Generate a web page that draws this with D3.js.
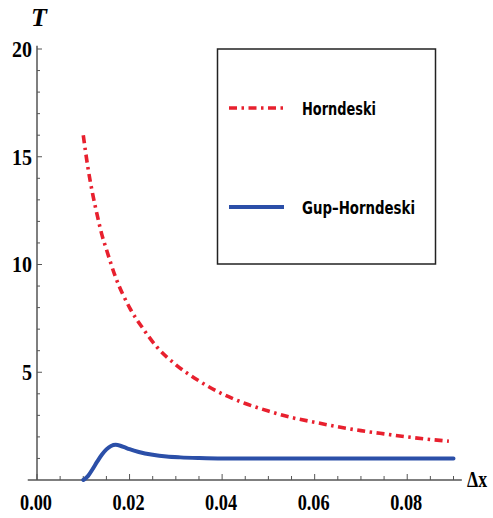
<!DOCTYPE html>
<html>
<head>
<meta charset="utf-8">
<script src="https://cdn.jsdelivr.net/npm/d3@7"></script>
<style>
  body { margin: 0; background: #fff; }
  svg { display: block; }
</style>
</head>
<body>
<svg width="493" height="518"></svg>
<script>
var hornX = [0.010, 0.011, 0.012, 0.013, 0.014, 0.015, 0.017, 0.020, 0.023, 0.026, 0.030, 0.035, 0.040, 0.045, 0.050, 0.055, 0.060, 0.065, 0.070, 0.075, 0.080, 0.085, 0.089];
var hornT = [16.0, 14.5, 13.3, 12.3, 11.4, 10.7, 9.4, 8.0, 7.0, 6.15, 5.35, 4.6, 4.0, 3.55, 3.2, 2.9, 2.68, 2.47, 2.29, 2.14, 2.0, 1.88, 1.8];
var gupX = [0.010, 0.011, 0.012, 0.013, 0.014, 0.015, 0.016, 0.017, 0.018, 0.019, 0.020, 0.022, 0.025, 0.028, 0.031, 0.035, 0.040, 0.050, 0.060, 0.070, 0.080, 0.090];
var gupT = [0.0, 0.18, 0.5, 0.85, 1.17, 1.42, 1.58, 1.63, 1.59, 1.51, 1.43, 1.3, 1.17, 1.09, 1.05, 1.02, 1.0, 1.0, 1.0, 1.0, 1.0, 1.0];
var xTicks = [0.00, 0.02, 0.04, 0.06, 0.08];
var yTicks = [5, 10, 15, 20];
var legendNames = ["Horndeski", "Gup\u2013Horndeski"];

var svg = d3.select("svg");
var x = d3.scaleLinear().domain([0, 0.09]).range([37, 453.5]);
var y = d3.scaleLinear().domain([0, 20]).range([480, 49]);
var axisColor = "#555";

var g = svg.append("g");

// x axis: ticks point up
var minorX = d3.range(0, 0.0901, 0.005);
g.append("line")
    .attr("x1", x(-0.002)).attr("x2", x(0.0918))
    .attr("y1", y(0)).attr("y2", y(0))
    .attr("stroke", axisColor).attr("stroke-width", 1.5);
g.selectAll(".xtick").data(minorX).enter().append("line")
    .attr("class", "xtick")
    .attr("x1", d => x(d)).attr("x2", d => x(d))
    .attr("y1", y(0))
    .attr("y2", (d, i) => y(0) - (i % 4 == 0 ? 6 : 4))
    .attr("stroke", axisColor).attr("stroke-width", 1);
g.selectAll(".xlab").data(xTicks).enter().append("text")
    .attr("class", "xlab")
    .attr("x", d => x(d) - 1)
    .attr("y", 510)
    .attr("text-anchor", "middle")
    .attr("font-family", "Liberation Serif")
    .attr("font-weight", "bold")
    .attr("font-size", "23px")
    .attr("textLength", 32)
    .attr("lengthAdjust", "spacingAndGlyphs")
    .text(d => d3.format(".2f")(d));

// y axis: ticks point right
var minorY = d3.range(0, 20.01, 1);
g.append("line")
    .attr("x1", x(0)).attr("x2", x(0))
    .attr("y1", y(0)).attr("y2", y(20.15))
    .attr("stroke", axisColor).attr("stroke-width", 1.5);
g.selectAll(".ytick").data(minorY.slice(1)).enter().append("line")
    .attr("class", "ytick")
    .attr("x1", x(0))
    .attr("x2", d => x(0) + (d % 5 == 0 ? 5 : 3))
    .attr("y1", d => y(d)).attr("y2", d => y(d))
    .attr("stroke", axisColor).attr("stroke-width", 1);
g.selectAll(".ylab").data(yTicks).enter().append("text")
    .attr("class", "ylab")
    .attr("x", 32)
    .attr("y", d => y(d))
    .attr("dy", "0.34em")
    .attr("text-anchor", "end")
    .attr("font-family", "Liberation Serif")
    .attr("font-weight", "bold")
    .attr("font-size", "23px")
    .attr("textLength", d => d < 10 ? 10 : 20)
    .attr("lengthAdjust", "spacingAndGlyphs")
    .text(d => d);

// axis labels
svg.append("text")
    .attr("x", 31).attr("y", 26)
    .attr("font-family", "Liberation Serif")
    .attr("font-style", "italic")
    .attr("font-weight", "bold")
    .attr("font-size", "26px")
    .text("T");
svg.append("text")
    .attr("x", 467).attr("y", 487)
    .attr("font-family", "Liberation Serif")
    .attr("font-weight", "bold")
    .attr("font-size", "23px")
    .attr("textLength", 20)
    .attr("lengthAdjust", "spacingAndGlyphs")
    .text("\u0394x");

// curves
var line = d3.line().x(d => x(d[0])).y(d => y(d[1])).curve(d3.curveMonotoneX);
var red = "#e8202e", blue = "#2b4fa8";
var dash = "8,4.5,2.5,4.5";

g.append("path")
    .datum(d3.zip(gupX, gupT))
    .attr("d", line)
    .attr("fill", "none")
    .attr("stroke", blue)
    .attr("stroke-width", 4)
    .attr("stroke-linecap", "round");

g.append("path")
    .datum(d3.zip(hornX, hornT))
    .attr("d", line)
    .attr("fill", "none")
    .attr("stroke", red)
    .attr("stroke-width", 3.6)
    .attr("stroke-dasharray", dash);

// legend
var leg = svg.append("g");
leg.append("rect")
    .attr("x", 217.5).attr("y", 49)
    .attr("width", 218).attr("height", 215)
    .attr("fill", "#fff")
    .attr("stroke", "#222").attr("stroke-width", 1.5);
var legY = [108, 207];
var legStyle = [{c: red, w: 3.6, d: dash}, {c: blue, w: 4, d: null}];
var legW = [74, 113];
legendNames.forEach(function(name, i) {
  leg.append("line")
      .attr("x1", 229).attr("x2", 284)
      .attr("y1", legY[i]).attr("y2", legY[i])
      .attr("stroke", legStyle[i].c)
      .attr("stroke-width", legStyle[i].w)
      .attr("stroke-dasharray", legStyle[i].d);
  leg.append("text")
      .attr("x", 302).attr("y", legY[i] + 7)
      .attr("font-family", "DejaVu Sans")
      .attr("font-weight", "bold")
      .attr("font-size", "18px")
      .attr("textLength", legW[i])
      .attr("lengthAdjust", "spacingAndGlyphs")
      .text(name);
});
</script>
</body>
</html>
